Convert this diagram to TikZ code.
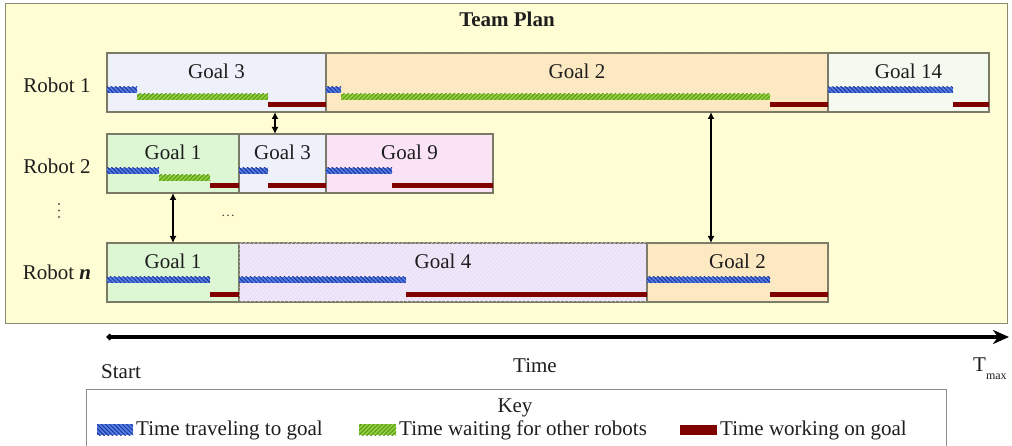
\documentclass[tikz,border=0pt]{standalone}
\usepackage{fontspec}
\setmainfont{Liberation Serif}
\usetikzlibrary{patterns,patterns.meta,arrows.meta,calc}
\definecolor{bgyellow}{HTML}{FFFDD3}
\definecolor{frame}{HTML}{8A8A72}
\definecolor{boxline}{HTML}{7A7A66}
\definecolor{lav}{HTML}{EEF0FA}
\definecolor{orangef}{HTML}{FDE9C2}
\definecolor{orangedot}{HTML}{F8E0B2}
\definecolor{whitegreen}{HTML}{F5FAF1}
\definecolor{lgreen}{HTML}{DDF6D4}
\definecolor{lpink}{HTML}{FBE3F6}
\definecolor{lpurple}{HTML}{F0E7FA}
\definecolor{lpurpleline}{HTML}{E6DAF3}
\definecolor{travelbase}{HTML}{4F80EC}
\definecolor{travelline}{HTML}{23338F}
\definecolor{waitbase}{HTML}{92D03E}
\definecolor{waitline}{HTML}{5A981C}
\definecolor{workred}{HTML}{800000}
\definecolor{keyline}{HTML}{8C8C8C}
\definecolor{txt}{HTML}{1E1E1E}
\tikzset{
  goal/.style={draw=boxline, line width=1.3pt, inner sep=0pt, outer sep=0pt, anchor=north west, minimum height=59pt},
  goallabel/.style={font=\fontsize{21}{21}\selectfont, text=txt, inner sep=0pt},
  rowlabel/.style={font=\fontsize{21}{21}\selectfont, text=txt, inner sep=0pt},
  travelbar/.style={preaction={fill=travelbase}, pattern={Lines[angle=-45,distance=3pt,line width=1pt]}, pattern color=travelline},
  waitbar/.style={preaction={fill=waitbase}, pattern={Lines[angle=45,distance=3pt,line width=1pt]}, pattern color=waitline},
  workbar/.style={fill=workred},
  sync/.style={line width=1.8pt, {Latex[length=7pt,width=7pt]}-{Latex[length=7pt,width=7pt]}},
  timeaxis/.style={line width=3.2pt, {Turned Square[length=7pt,width=7pt]}-{Stealth[length=16pt,width=14pt,inset=5pt]}},
  dotstex/.style={postaction={pattern={Dots[distance=3pt,radius=0.45pt]}, pattern color=orangedot}},
  hatchtex/.style={postaction={pattern={Lines[angle=45,distance=3pt,line width=0.5pt]}, pattern color=lpurpleline}},
  vdot/.style={fill=txt!75, inner sep=0pt, minimum size=2.2pt, circle}
}
\newcommand\goalbox[7]{%
  \node[goal, fill=#5, #7, minimum width={(#3-#2)*1pt}] (#1) at (#2,#4) {};
  \node[goallabel] (#1l) at ($(#1.north)+(0,18)$) {#6};}
\newcommand\travel[3]{\path[travelbar] (#1,#3+34) rectangle (#2,#3+40);}
\newcommand\waitb[3]{\path[waitbar] (#1,#3+41) rectangle (#2,#3+47);}
\newcommand\work[3]{\path[workbar] (#1,#3+49) rectangle (#2,#3+54);}
\begin{document}
\begin{tikzpicture}[x=1pt,y=-1pt]
\useasboundingbox (0,0) rectangle (1012,446);
\fill[white] (0,0) rectangle (1012,446);
% team plan frame
\node[draw=frame, fill=bgyellow, line width=1.3pt, anchor=north west, minimum width=1002pt, minimum height=320pt, inner sep=0pt] (plan) at (5,3) {};
\node[font=\bfseries\fontsize{21}{21}\selectfont, text=txt, inner sep=0pt] (title) at (507,19) {Team Plan};
% row labels
\node[rowlabel] (rob1) at (57,85) {Robot 1};
\node[rowlabel] (rob2) at (57,166) {Robot 2};
\node[rowlabel] (robn) at (57,272) {Robot \textbf{\textit{n}}};
\node[vdot] (vd1) at (59,204) {};
\node[vdot] (vd2) at (59,210.5) {};
\node[vdot] (vd3) at (59,217) {};
\node[font=\fontsize{14}{14}\selectfont, text=txt!80, inner sep=0pt] (hd) at (228,216) {\ldots};
% Robot 1
\goalbox{a1}{107}{326}{53}{lav}{Goal 3}{}
\goalbox{a2}{326}{828}{53}{orangef}{Goal 2}{dotstex}
\goalbox{a3}{828}{989}{53}{whitegreen}{Goal 14}{}
% Robot 2
\goalbox{b1}{107}{239}{134}{lgreen}{Goal 1}{}
\goalbox{b2}{239}{326}{134}{lav}{Goal 3}{}
\goalbox{b3}{326}{493}{134}{lpink}{Goal 9}{}
% Robot n
\goalbox{c1}{107}{239}{243}{lgreen}{Goal 1}{}
\goalbox{c2}{239}{647}{243}{lpurple}{Goal 4}{hatchtex}
\goalbox{c3}{647}{828}{243}{orangef}{Goal 2}{dotstex}
% bars robot 1
\travel{107}{137}{53} \waitb{137}{268}{53} \work{268}{326}{53}
\travel{326}{341}{53} \waitb{341}{770}{53} \work{770}{828}{53}
\travel{828}{953}{53} \work{953}{989}{53}
% bars robot 2
\travel{107}{159}{134} \waitb{159}{210}{134} \work{210}{239}{134}
\travel{239}{268}{134} \work{268}{326}{134}
\travel{326}{392}{134} \work{392}{493}{134}
% bars robot n
\travel{107}{210}{243} \work{210}{239}{243}
\travel{239}{406}{243} \work{406}{647}{243}
\travel{647}{770}{243} \work{770}{828}{243}
% synchronisation arrows
\coordinate (s1) at (275,0);
\coordinate (s2) at (173,0);
\coordinate (s3) at (711,0);
\draw[sync] (a1.south -| s1) -- (b2.north -| s1);
\draw[sync] (b1.south -| s2) -- (c1.north -| s2);
\draw[sync] (a2.south -| s3) -- (c3.north -| s3);
% time axis
\coordinate (tstart) at (106,337);
\coordinate (tend) at (1009,337);
\draw[timeaxis] (tstart) -- (tend);
\node[rowlabel] (start) at (121,372) {Start};
\node[rowlabel] (time) at (535,366) {Time};
\node[rowlabel, anchor=west] (tmax) at (973,369) {T\raisebox{-8pt}{\fontsize{12}{12}\selectfont max}};
% key
\node[draw=keyline, fill=white, line width=1.3pt, anchor=north west, minimum width=860pt, minimum height=70pt, inner sep=0pt] (key) at (86,389) {};
\node[rowlabel] (keyt) at (515,408) {Key};
\path[travelbar] (97,424) rectangle (133,435);
\node[rowlabel, anchor=west] (k1) at (136,430) {Time traveling to goal};
\path[waitbar] (359,424) rectangle (396,435);
\node[rowlabel, anchor=west] (k2) at (399,430) {Time waiting for other robots};
\path[workbar] (680,425) rectangle (717,435);
\node[rowlabel, anchor=west] (k3) at (720,430) {Time working on goal};
\end{tikzpicture}
\end{document}
